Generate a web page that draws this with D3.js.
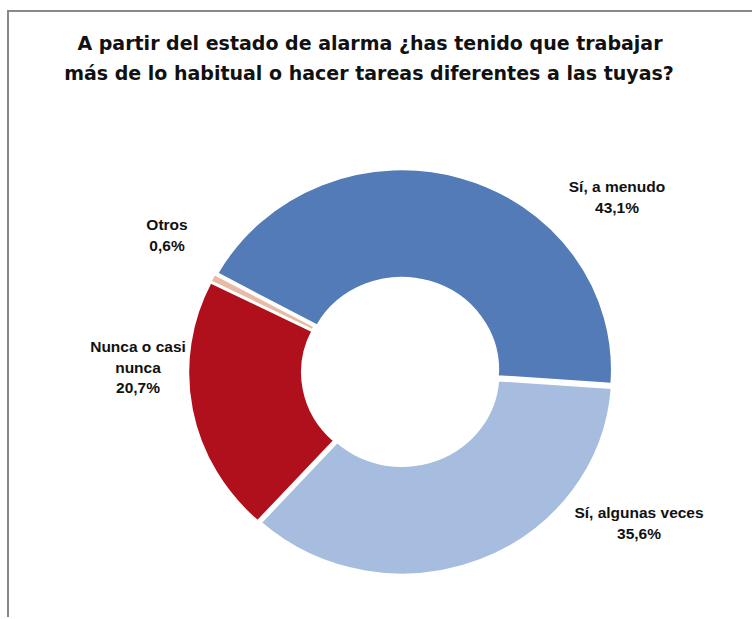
<!DOCTYPE html>
<html>
<head>
<meta charset="utf-8">
<script src="https://d3js.org/d3.v7.min.js"></script>
<style>
  body { margin: 0; background: #fff; }
  text { font-family: "Liberation Sans", Arial, sans-serif; font-weight: bold; fill: #111; }
  text.title { font-family: "DejaVu Sans", sans-serif; }
</style>
</head>
<body>
<div id="chart"></div>
<script>
// data
var categories = ["Sí, a menudo", "Sí, algunas veces", "Nunca o casi nunca", "Otros"];
var values = [43.1, 35.6, 20.7, 0.6];
var labelLines = [["Sí, a menudo"], ["Sí, algunas veces"], ["Nunca o casi", "nunca"], ["Otros"]];
var colors = ["#527bb8", "#a7bde0", "#b0101c", "#e6bca6"];

// label anchors (center x, first baseline y), placed by hand like the original
var labelPos = [[617, 192], [639, 518], [138, 352], [167, 230]];

var width = 752, height = 619;
var cx = 401, cy = 372;
var outer = 200, inner = 92;
var stretchX = 1.05;     // the original pie is slightly wider than tall
var explode = 2.5;

var svg = d3.select("#chart").append("svg")
  .attr("width", width)
  .attr("height", height);

// frame
svg.append("path")
  .attr("d", "M8,617 L8,11 L752,11")
  .attr("fill", "none")
  .attr("stroke", "#888")
  .attr("stroke-width", 2);

// title
var title = svg.append("text")
  .attr("class", "title")
  .attr("text-anchor", "middle")
  .style("font-size", "19px");
title.append("tspan").attr("x", 370).attr("y", 50)
  .text("A partir del estado de alarma ¿has tenido que trabajar");
title.append("tspan").attr("x", 369).attr("y", 80)
  .text("más de lo habitual o hacer tareas diferentes a las tuyas?");

var start = -61.2 * Math.PI / 180;
var pie = d3.pie().sort(null).value(function(d) { return d; })
  .startAngle(start).endAngle(start + 2 * Math.PI);

var arc = d3.arc().innerRadius(inner).outerRadius(outer);

var g = svg.append("g")
  .attr("transform", "translate(" + cx + "," + cy + ") scale(" + stretchX + ",1)");

g.selectAll("path.slice")
  .data(pie(values))
  .enter().append("path")
  .attr("class", "slice")
  .attr("d", arc)
  .attr("fill", function(d, i) { return colors[i]; })
  .attr("stroke", "#fff")
  .attr("stroke-width", 1.5)
  .attr("transform", function(d) {
    var a = (d.startAngle + d.endAngle) / 2;
    return "translate(" + (Math.sin(a) * explode) + "," + (-Math.cos(a) * explode) + ")";
  });

// labels
values.forEach(function(v, i) {
  var lines = labelLines[i].concat([d3.format(".1f")(v).replace(".", ",") + "%"]);
  var t = svg.append("text")
    .attr("text-anchor", "middle")
    .style("font-size", "15.5px");
  lines.forEach(function(s, k) {
    t.append("tspan")
      .attr("x", labelPos[i][0])
      .attr("y", labelPos[i][1] + k * 20.5)
      .text(s);
  });
});
</script>
</body>
</html>
